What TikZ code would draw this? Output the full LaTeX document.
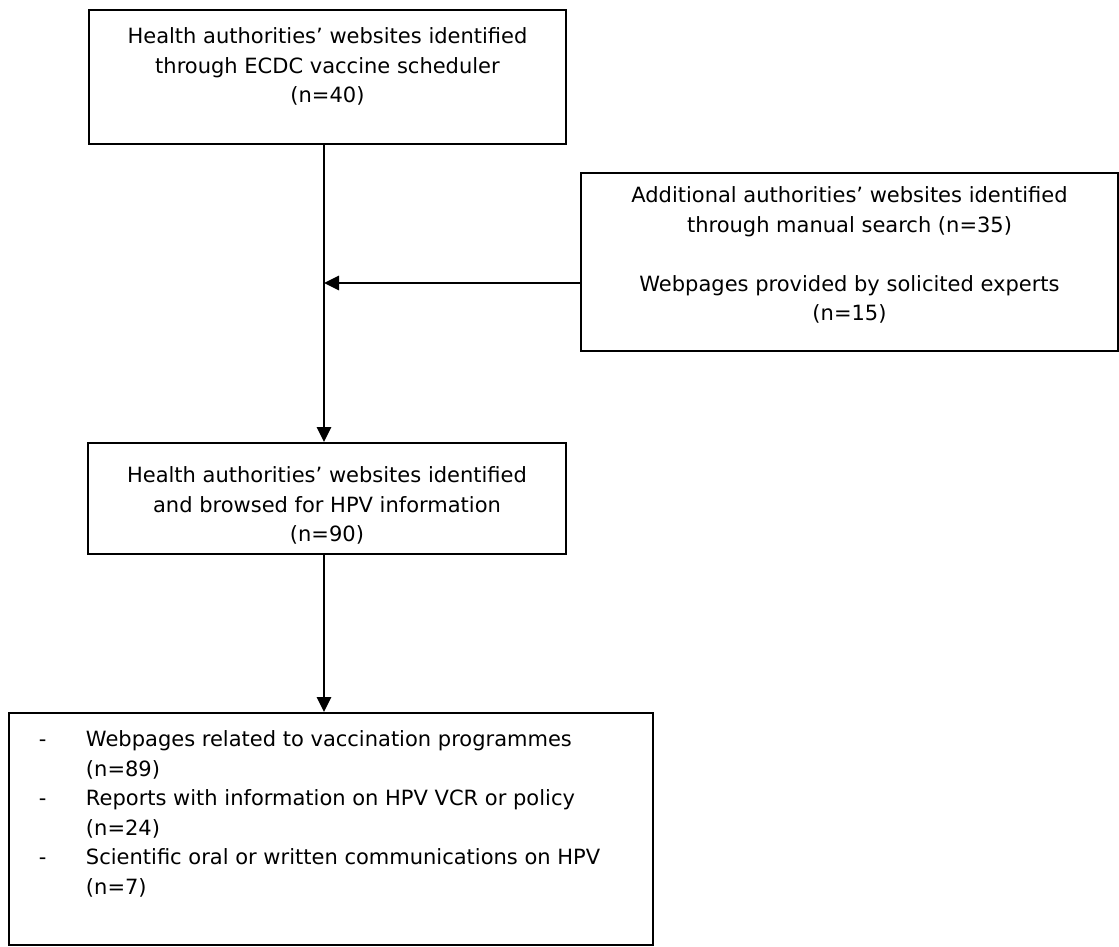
\documentclass[tikz,border=0pt]{standalone}
\usepackage{fontspec}
\setmainfont{DejaVu Sans}
\usetikzlibrary{calc, arrows.meta}

\tikzset{
  flowbox/.style = {draw, line width = 1pt, inner sep = 0pt, anchor = north west},
  link/.style = {line width = 1.4pt, -{Triangle[length = 7.5pt, width = 7pt]}}
}

\begin{document}
\begin{tikzpicture}[x = 0.5pt, y = -0.5pt, font = \fontsize{10.5pt}{14.75pt}\selectfont]
    \useasboundingbox (0,0) rectangle (1119,947);
    \node[flowbox] (sched) at (88,9){\parbox[c][67pt][t]{238.5pt}{\centering
      \vspace*{6.5pt}\strut Health authorities’ websites identified\\
      through ECDC vaccine scheduler\\
      (n=40)}};
    \node[flowbox] (extra) at (580,172){\parbox[c][89pt][t]{268.5pt}{\centering
      \vspace*{4.5pt}\strut Additional authorities’ websites identified\\
      through manual search (n=35)\\[14.75pt]
      Webpages provided by solicited experts\\
      (n=15)}};
    \node[flowbox] (browse) at (87,442){\parbox[c][55.5pt][t]{239pt}{\centering
      \vspace*{9.5pt}\strut Health authorities’ websites identified\\
      and browsed for HPV information\\
      (n=90)}};
    \node[flowbox] (found) at (8,712){\parbox[c][116pt][t]{322pt}{%
      \vspace*{6.5pt}\noindent\begin{tabular}[t]{@{\hspace{15pt}}p{23.5pt}@{}l@{}}
      - & Webpages related to vaccination programmes\\
        & (n=89)\\
      - & Reports with information on HPV VCR or policy\\
        & (n=24)\\
      - & Scientific oral or written communications on HPV\\
        & (n=7)
      \end{tabular}}};
    % spine of the flow
    \coordinate (spine) at (324,0);
    \coordinate (merge) at (324,283);
    \draw[link] (sched.south -| spine) to (browse.north -| spine);
    \draw[link] (extra.west |- merge) to (merge);
    \draw[link] (browse.south -| spine) to (found.north -| spine);
  \end{tikzpicture}
\end{document}
